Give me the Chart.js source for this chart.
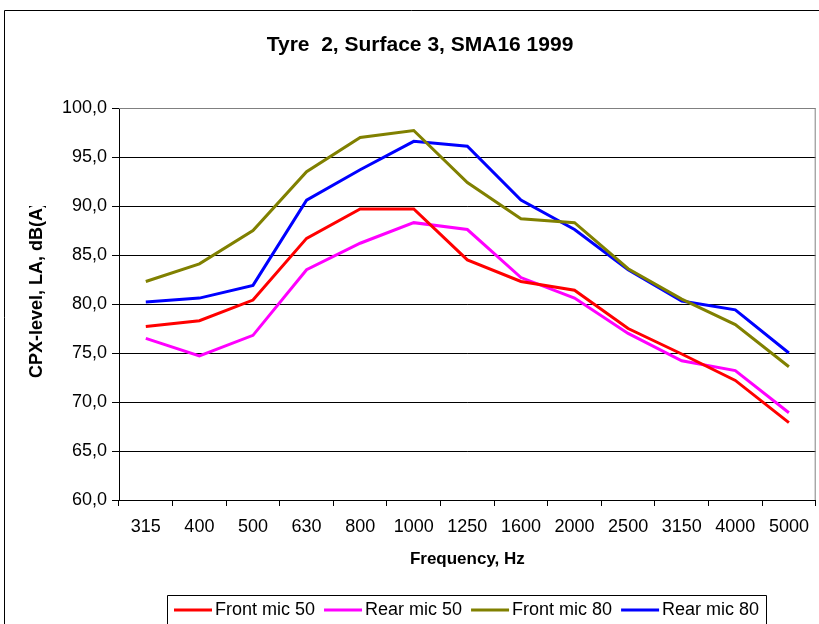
<!DOCTYPE html>
<html>
<head>
<meta charset="utf-8">
<script src="https://cdn.jsdelivr.net/npm/chart.js@4/dist/chart.umd.min.js"></script>
<style>
  html, body { margin: 0; padding: 0; background: #fff; }
  canvas { display: block; }
</style>
</head>
<body>
<canvas id="c" width="819" height="624"></canvas>
<script>
const chartTitle = 'Tyre  2, Surface 3, SMA16 1999';
const xTitle = 'Frequency, Hz';
const yTitle = 'CPX-level, LA, dB(A)';
const categories = ['315','400','500','630','800','1000','1250','1600','2000','2500','3150','4000','5000'];
const seriesNames = ['Front mic 50', 'Rear mic 50', 'Front mic 80', 'Rear mic 80'];
const seriesColors = ['#FF0000', '#FF00FF', '#808000', '#0000FF'];
const frontMic50 = [77.7, 78.3, 80.4, 86.7, 89.7, 89.7, 84.5, 82.3, 81.4, 77.5, 74.9, 72.2, 67.9];
const rearMic50  = [76.5, 74.7, 76.8, 83.5, 86.2, 88.3, 87.6, 82.7, 80.6, 77.0, 74.2, 73.2, 68.9];
const frontMic80 = [82.3, 84.1, 87.5, 93.5, 97.0, 97.7, 92.4, 88.7, 88.3, 83.6, 80.5, 77.9, 73.6];
const rearMic80  = [80.2, 80.6, 81.9, 90.6, 93.7, 96.6, 96.1, 90.6, 87.6, 83.5, 80.3, 79.4, 75.0];
const yMin = 60, yMax = 100, yStep = 5;

const FONT = "'Liberation Sans', Arial, sans-serif";

const decor = {
  id: 'decor',
  beforeDraw(chart) {
    const ctx = chart.ctx;
    ctx.save();
    ctx.fillStyle = '#fff';
    ctx.fillRect(0, 0, chart.width, chart.height);
    ctx.strokeStyle = '#000';
    ctx.lineWidth = 1;
    ctx.beginPath();
    ctx.moveTo(4.5, chart.height);
    ctx.lineTo(4.5, 10.5);
    ctx.lineTo(chart.width, 10.5);
    ctx.stroke();
    ctx.restore();
  },
  afterDraw(chart) {
    const ctx = chart.ctx;
    const a = chart.chartArea;
    ctx.save();
    // plot border (top/right)
    ctx.strokeStyle = '#808080';
    ctx.lineWidth = 1;
    ctx.beginPath();
    ctx.moveTo(a.left, a.top + 0.5);
    ctx.lineTo(a.right - 0.5, a.top + 0.5);
    ctx.lineTo(a.right - 0.5, a.bottom);
    ctx.stroke();
    // title
    ctx.fillStyle = '#000';
    ctx.font = 'bold 21px ' + FONT;
    ctx.textAlign = 'center';
    ctx.textBaseline = 'middle';
    ctx.fillText(chartTitle, 420, 45);
    // y title (clipped like reference)
    ctx.save();
    ctx.beginPath();
    ctx.rect(0, 206, 110, 400);
    ctx.clip();
    ctx.translate(37, 378);
    ctx.rotate(-Math.PI / 2);
    ctx.font = 'bold 18px ' + FONT;
    ctx.textAlign = 'left';
    ctx.textBaseline = 'middle';
    ctx.fillText(yTitle, 0, 0);
    ctx.restore();
    // legend
    ctx.strokeStyle = '#000';
    ctx.lineWidth = 1;
    ctx.beginPath();
    ctx.moveTo(167.5, chart.height);
    ctx.lineTo(167.5, 595.5);
    ctx.lineTo(766.5, 595.5);
    ctx.lineTo(766.5, chart.height);
    ctx.stroke();
    ctx.font = '18px ' + FONT;
    ctx.textAlign = 'left';
    ctx.textBaseline = 'middle';
    let x = 174;
    const y = 610;
    chart.data.datasets.forEach(ds => {
      ctx.strokeStyle = ds.borderColor;
      ctx.lineWidth = 3;
      ctx.beginPath();
      ctx.moveTo(x, y);
      ctx.lineTo(x + 38, y);
      ctx.stroke();
      ctx.fillStyle = '#000';
      ctx.fillText(ds.label, x + 41, y);
      x += 41 + ctx.measureText(ds.label).width + 9;
    });
    ctx.restore();
  }
};

const seriesData = [frontMic50, rearMic50, frontMic80, rearMic80];

new Chart(document.getElementById('c'), {
  type: 'line',
  data: {
    labels: categories,
    datasets: seriesData.map((d, i) => ({
      label: seriesNames[i],
      data: d,
      borderColor: seriesColors[i],
      backgroundColor: seriesColors[i],
      borderWidth: 3,
      pointRadius: 0,
      tension: 0,
      fill: false
    }))
  },
  options: {
    responsive: false,
    animation: false,
    devicePixelRatio: 1,
    layout: { padding: { top: 108, left: 0, right: 2, bottom: 49 } },
    plugins: {
      legend: { display: false },
      title: { display: false },
      tooltip: { enabled: false }
    },
    scales: {
      x: {
        type: 'category',
        offset: true,
        grid: {
          display: true,
          drawOnChartArea: false,
          drawTicks: true,
          tickLength: 6,
          offset: true,
          color: '#000'
        },
        border: { display: true, color: '#000', width: 1 },
        ticks: {
          color: '#000',
          font: { family: FONT, size: 18 },
          padding: 10,
          maxRotation: 0,
          autoSkip: false
        },
        title: {
          display: true,
          text: xTitle,
          color: '#000',
          font: { family: FONT, size: 17, weight: 'bold' },
          padding: { top: 0, bottom: 5 }
        },
        afterFit(scale) { scale.height = 75; }
      },
      y: {
        min: yMin,
        max: yMax,
        grid: {
          color: (c) => (c.tick && c.tick.value === yMax) ? '#808080' : '#000',
          tickLength: 7,
          tickColor: '#000',
          lineWidth: 1
        },
        border: { display: true, color: '#000', width: 1 },
        ticks: {
          stepSize: yStep,
          color: '#000',
          font: { family: FONT, size: 18 },
          padding: 5,
          callback: (v) => Number(v).toFixed(1).replace('.', ',')
        },
        afterFit(scale) { scale.width = 119; }
      }
    }
  },
  plugins: [decor]
});
</script>
</body>
</html>
